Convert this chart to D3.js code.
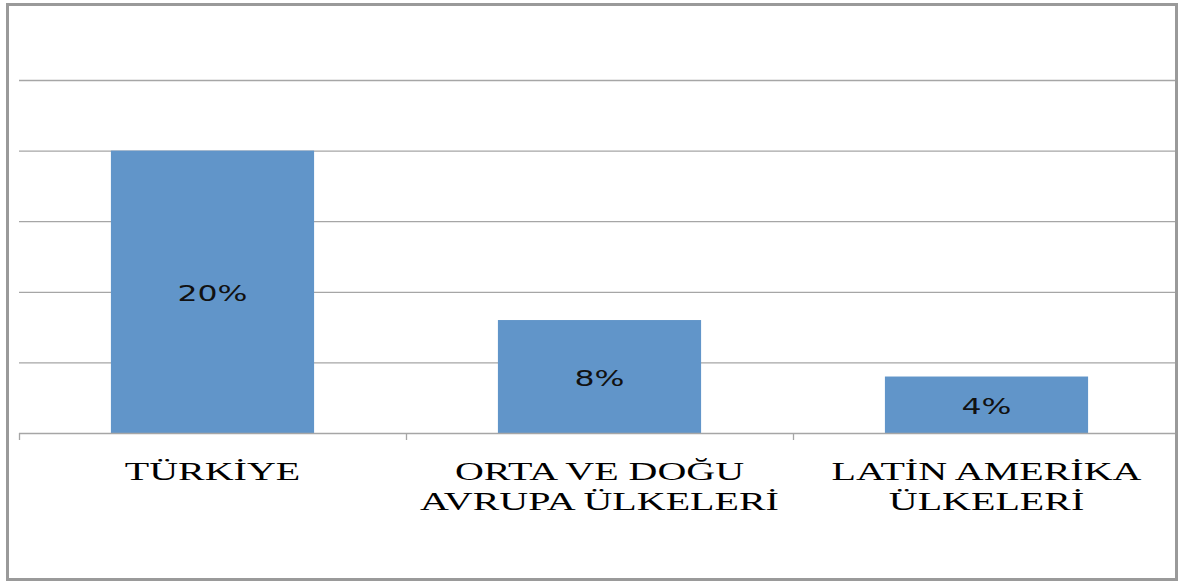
<!DOCTYPE html>
<html>
<head>
<meta charset="utf-8">
<script src="https://cdn.jsdelivr.net/npm/d3@7"></script>
<style>
  body { margin: 0; background: #fff; }
</style>
</head>
<body>
<div id="chart"></div>
<script>
var categories = [["TÜRKİYE"], ["ORTA VE DOĞU", "AVRUPA ÜLKELERİ"], ["LATİN AMERİKA", "ÜLKELERİ"]];
var values = [0.20, 0.08, 0.04];
var yTicks = [0, 0.05, 0.10, 0.15, 0.20, 0.25];

var full_width = 1179, full_height = 582;
var margin = {top: 80, right: 4, bottom: 149, left: 19};
var width = full_width - margin.left - margin.right;
var height = full_height - margin.top - margin.bottom;
var bandWidth = 387; // categories are spaced a bit wider than the grid
var stretch = 1.5; // source picture is stretched sideways

var svg = d3.select("#chart")
  .append("svg")
    .attr("width", full_width)
    .attr("height", full_height);

// outer frame
svg.append("rect")
  .attr("x", 7.5).attr("y", 4.5)
  .attr("width", 1169).attr("height", 575)
  .style("fill", "none")
  .style("stroke", "#9a9a9a")
  .style("stroke-width", 3);

var g = svg.append("g")
  .attr("transform", "translate(" + margin.left + "," + margin.top + ")");

var x = d3.scaleBand()
  .domain(d3.range(categories.length))
  .range([0, bandWidth * categories.length])
  .paddingInner(0.475)
  .paddingOuter(0.2375);

var y = d3.scaleLinear()
  .domain([0, 0.25])
  .range([height, 0]);

// gridlines
g.selectAll(".grid")
  .data(yTicks.slice(1))
  .enter().append("line")
  .attr("x1", 0).attr("x2", width)
  .attr("y1", d => y(d) + 0.5).attr("y2", d => y(d) + 0.5)
  .style("stroke", "#a6a6a6")
  .style("stroke-width", 1.3);

// bars
g.selectAll(".bar")
  .data(values)
  .enter().append("rect")
  .attr("x", (d, i) => x(i))
  .attr("y", d => y(d))
  .attr("width", x.bandwidth())
  .attr("height", d => height - y(d))
  .style("fill", "#6195c9");

// baseline + ticks between categories
g.append("line")
  .attr("x1", 0).attr("x2", width)
  .attr("y1", height + 0.5).attr("y2", height + 0.5)
  .style("stroke", "#a6a6a6")
  .style("stroke-width", 1.3);
g.selectAll(".tick")
  .data(d3.range(categories.length))
  .enter().append("line")
  .attr("x1", d => d * bandWidth + 0.5).attr("x2", d => d * bandWidth + 0.5)
  .attr("y1", height).attr("y2", height + 7)
  .style("stroke", "#a6a6a6")
  .style("stroke-width", 1.3);

// value labels
g.selectAll(".val")
  .data(values)
  .enter().append("text")
  .attr("transform", (d, i) => "translate(" + (x(i) + x.bandwidth() / 2) + "," + ((y(d) + height) / 2 + 9) + ") scale(" + stretch + ",1)")
  .style("text-anchor", "middle")
  .style("font", "21px 'DejaVu Sans', sans-serif")
  .style("fill", "#111")
  .text(d => Math.round(d * 100) + "%");

// category labels
categories.forEach(function(lines, i) {
  lines.forEach(function(t, j) {
    g.append("text")
      .attr("transform", "translate(" + (x(i) + x.bandwidth() / 2) + "," + (height + 47 + j * 30) + ") scale(1.6,1)")
      .style("text-anchor", "middle")
      .style("font", "25px 'Liberation Serif', serif")
      .style("fill", "#000")
      .text(t);
  });
});
</script>
</body>
</html>
